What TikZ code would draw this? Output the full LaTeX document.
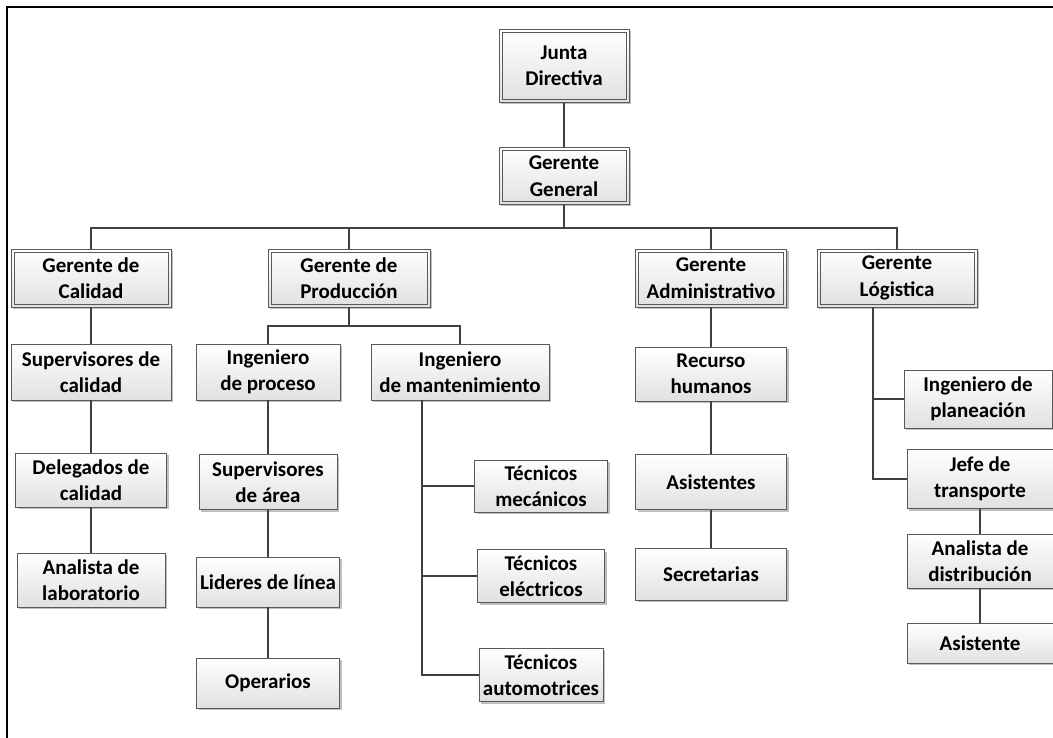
\documentclass[tikz,border=0pt]{standalone}
\usepackage{fontspec}
\setmainfont{Carlito}
\usetikzlibrary{shadows}
\definecolor{edge}{HTML}{404040}
\definecolor{boxb}{HTML}{5A5A5A}
\begin{document}
\begin{tikzpicture}[x=1pt,y=-1pt,
  box/.style={draw=boxb, line width=0.9pt, top color=white, bottom color=black!12,
    drop shadow={shadow xshift=2pt, shadow yshift=-2pt, opacity=0.25, fill=black},
    align=center, inner sep=0pt, font=\fontsize{21}{26.5}\selectfont\bfseries,
    minimum width=#1},
  box/.default=150pt,
  dbox/.style={box=#1, path picture={\draw[boxb, line width=0.8pt]
    ([shift={(3pt,3pt)}]path picture bounding box.south west) rectangle
    ([shift={(-3pt,-3pt)}]path picture bounding box.north east);}},
  dbox/.default=150pt,
  conn/.style={draw=edge, line width=1.5pt}]
\useasboundingbox (0,0) rectangle (1053,738);
\draw[line width=2pt] (7,738) -- (7,7) -- (1053,7);
% top
\node[dbox=130pt, minimum height=73pt] (jd) at (564,66) {Junta\\Directiva};
\node[dbox=130pt, minimum height=57pt] (gg) at (564,176) {Gerente\\General};
% gerentes
\node[dbox=160pt, minimum height=58pt] (gc) at (91,278) {Gerente de\\Calidad};
\node[dbox=162pt, minimum height=58pt] (gp) at (349,278) {Gerente de\\Producción};
\node[dbox=151pt, minimum height=58pt] (ga) at (711,278) {Gerente\\Administrativo};
\node[dbox=160pt, minimum height=58pt] (gl) at (897,278) {Gerente\\Lógistica};
% calidad
\node[box=160pt, minimum height=56pt] (sc) at (91,372) {Supervisores de\\calidad};
\node[box=151pt, minimum height=54pt] (dc) at (91,480) {Delegados de\\calidad};
\node[box=148pt, minimum height=54pt] (al) at (91,580) {Analista de\\laboratorio};
% produccion
\node[box=144pt, minimum height=56pt] (ip) at (268,372) {Ingeniero\\de proceso};
\node[box=178pt, minimum height=56pt] (im) at (460,372) {Ingeniero\\de mantenimiento};
\node[box=138pt, minimum height=55pt] (sa) at (268,482) {Supervisores\\de área};
\node[box=143pt, minimum height=50pt] (ll) at (268,582) {Lideres de línea};
\node[box=143pt, minimum height=50pt] (op) at (268,683) {Operarios};
\node[box=133pt, minimum height=52pt] (tm) at (541,486) {Técnicos\\mecánicos};
\node[box=127pt, minimum height=53pt] (te) at (541,576) {Técnicos\\eléctricos};
\node[box=124pt, minimum height=53pt] (ta) at (541,675) {Técnicos\\automotrices};
% administrativo
\node[box=151pt, minimum height=54pt] (rh) at (711,374) {Recurso\\humanos};
\node[box=151pt, minimum height=55pt] (as) at (711,482) {Asistentes};
\node[box=151pt, minimum height=52pt] (se) at (711,574) {Secretarias};
% logistica
\node[box=148pt, minimum height=58pt] (ipl) at (978,399) {Ingeniero de\\planeación};
\node[box=146pt, minimum height=59pt] (jt) at (980,479) {Jefe de\\transporte};
\node[box=146pt, minimum height=54pt] (ad) at (980,561) {Analista de\\distribución};
\node[box=146pt, minimum height=40pt] (at) at (980,643) {Asistente};
% connectors
\coordinate (bar) at (0,228);
\coordinate (bar2) at (0,326);
\coordinate (mv) at (422,0);
\coordinate (lv) at (873,0);
\draw[conn] (jd) -- (gg);
\draw[conn] (gg.south) -- (gg.south |- bar);
\draw[conn] (gc.north) -- (gc.north |- bar) -- (gl.north |- bar) -- (gl.north);
\draw[conn] (gp.north) -- (gp.north |- bar);
\draw[conn] (ga.north) -- (ga.north |- bar);
\draw[conn] (gc) -- (sc);
\draw[conn] (sc) -- (dc);
\draw[conn] (dc) -- (al);
\draw[conn] (gp.south) -- (gp.south |- bar2);
\draw[conn] (ip.north) -- (ip.north |- bar2) -- (im.north |- bar2) -- (im.north);
\draw[conn] (ip) -- (sa);
\draw[conn] (sa) -- (ll);
\draw[conn] (ll) -- (op);
\draw[conn] (im.south -| mv) -- (mv |- ta.west) -- (ta.west);
\draw[conn] (mv |- tm.west) -- (tm.west);
\draw[conn] (mv |- te.west) -- (te.west);
\draw[conn] (ga) -- (rh);
\draw[conn] (rh) -- (as);
\draw[conn] (as) -- (se);
\draw[conn] (gl.south -| lv) -- (lv |- jt.west) -- (jt.west);
\draw[conn] (lv |- ipl.west) -- (ipl.west);
\draw[conn] (jt) -- (ad);
\draw[conn] (ad) -- (at);
\end{tikzpicture}
\end{document}
